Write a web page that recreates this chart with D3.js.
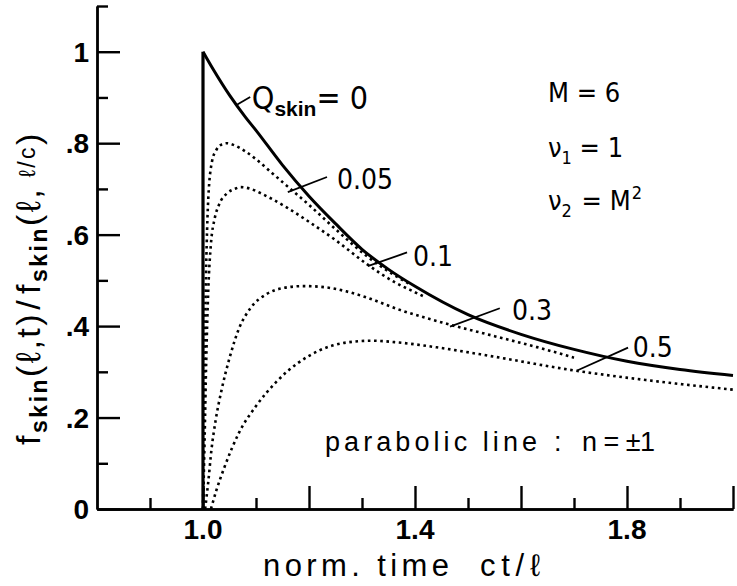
<!DOCTYPE html>
<html>
<head>
<meta charset="utf-8">
<script src="https://cdn.jsdelivr.net/npm/d3@7"></script>
<style>
  body { margin: 0; background: #fff; }
  svg { display: block; }
</style>
</head>
<body>
<svg id="chart" width="737" height="586"></svg>
<script>
// Skin-current response at the far end of a parabolic line (n = ±1), M = 6
// Normalised time ct/ℓ and normalised response, one series per Q_skin value.

// Q_skin = 0 : vertical jump at ct/ℓ = 1, then decay
const tJump = [1.0, 1.0];
const vJump = [0.0, 1.0];
const tQ0 = [1.00, 1.02, 1.05, 1.08, 1.10, 1.15, 1.20, 1.25, 1.30, 1.35, 1.40, 1.50, 1.60, 1.70, 1.80, 1.90, 2.00];
const vQ0 = [1.000, 0.960, 0.905, 0.857, 0.828, 0.752, 0.684, 0.624, 0.568, 0.524, 0.487, 0.425, 0.382, 0.349, 0.323, 0.305, 0.292];

// Q_skin = 0.05
const tQ005 = [1.000, 1.002, 1.004, 1.007, 1.010, 1.017, 1.025, 1.035, 1.045, 1.060, 1.080, 1.100, 1.130, 1.160, 1.200, 1.250, 1.310, 1.360, 1.390];
const vQ005 = [0.00, 0.20, 0.40, 0.58, 0.68, 0.76, 0.785, 0.797, 0.800, 0.795, 0.782, 0.765, 0.735, 0.705, 0.665, 0.612, 0.552, 0.512, 0.492];

// Q_skin = 0.1
const tQ01 = [1.000, 1.003, 1.006, 1.010, 1.015, 1.022, 1.030, 1.045, 1.060, 1.071, 1.090, 1.110, 1.130, 1.160, 1.200, 1.250, 1.310, 1.360, 1.400, 1.420];
const vQ01 = [0.00, 0.15, 0.32, 0.48, 0.58, 0.635, 0.665, 0.69, 0.70, 0.704, 0.70, 0.69, 0.678, 0.658, 0.628, 0.588, 0.535, 0.497, 0.474, 0.463];

// Q_skin = 0.3
const tQ03 = [1.004, 1.010, 1.016, 1.024, 1.035, 1.050, 1.068, 1.090, 1.120, 1.150, 1.190, 1.230, 1.270, 1.310, 1.370, 1.460, 1.550, 1.630, 1.700];
const vQ03 = [0.00, 0.06, 0.13, 0.195, 0.26, 0.33, 0.395, 0.44, 0.47, 0.483, 0.4875, 0.485, 0.476, 0.462, 0.436, 0.405, 0.378, 0.354, 0.331];

// Q_skin = 0.5
const tQ05 = [1.015, 1.025, 1.040, 1.068, 1.100, 1.140, 1.180, 1.220, 1.270, 1.320, 1.370, 1.450, 1.550, 1.700, 1.850, 2.000];
const vQ05 = [0.00, 0.04, 0.09, 0.167, 0.225, 0.28, 0.32, 0.347, 0.364, 0.368, 0.364, 0.352, 0.333, 0.303, 0.280, 0.261];

// Axis ticks and labels
const yMajor = [0, 0.2, 0.4, 0.6, 0.8, 1.0];
const yMinor = [0.1, 0.3, 0.5, 0.7, 0.9, 1.1];
const yTickLabels = ["0", ".2", ".4", ".6", ".8", "1"];
const xMajor = [1.0, 1.2, 1.4, 1.6, 1.8, 2.0];
const xMinor = [0.9, 1.1, 1.3, 1.5, 1.7, 1.9];
const xLabelValues = [1.0, 1.4, 1.8];
const xTickLabels = ["1.0", "1.4", "1.8"];

// Curve annotations: label text and the leader from curve to label (data units)
const annotations = [
  { text: "0.05", from: [1.160, 0.693], to: [1.234, 0.726], at: [1.253, 0.700] },
  { text: "0.1",  from: [1.311, 0.531], to: [1.385, 0.561], at: [1.396, 0.531] },
  { text: "0.3",  from: [1.466, 0.399], to: [1.560, 0.439], at: [1.583, 0.414] },
  { text: "0.5",  from: [1.706, 0.303], to: [1.802, 0.353], at: [1.811, 0.333] }
];

const svg = d3.select("#chart");
const x = d3.scaleLinear().domain([0.8, 2.0]).range([97, 733]);
const y = d3.scaleLinear().domain([0, 1.1]).range([509, 6]);

const narrow = "'Liberation Sans Narrow', 'DejaVu Sans Condensed', 'Liberation Sans', sans-serif";
const plain = "'Liberation Sans', Arial, sans-serif";
const bold = "'Liberation Sans', Arial, sans-serif";

// ----- axes -----
const axisStyle = g => {
  g.selectAll("path, line").attr("stroke", "#000").attr("stroke-width", 2.4);
  g.selectAll("text").remove();
};
svg.append("g").attr("transform", `translate(${x(0.8)},0)`)
  .call(d3.axisLeft(y).tickValues(yMajor).tickSize(-23).tickSizeOuter(0))
  .call(axisStyle);
svg.append("g").attr("transform", `translate(${x(0.8)},0)`)
  .call(d3.axisLeft(y).tickValues(yMinor).tickSize(-11).tickSizeOuter(0))
  .call(axisStyle);
svg.append("g").attr("transform", `translate(0,${y(0)})`)
  .call(d3.axisBottom(x).tickValues(xMajor).tickSize(-23).tickSizeOuter(0))
  .call(axisStyle);
svg.append("g").attr("transform", `translate(0,${y(0)})`)
  .call(d3.axisBottom(x).tickValues(xMinor).tickSize(-11).tickSizeOuter(0))
  .call(axisStyle);

// tick labels
svg.append("g").selectAll("text").data(yMajor).join("text")
  .attr("x", x(0.8) - 8).attr("y", d => y(d)).attr("dy", "0.36em")
  .attr("text-anchor", "end")
  .attr("font-family", bold).attr("font-weight", "bold").attr("font-size", 28)
  .text((d, i) => yTickLabels[i]);
svg.append("g").selectAll("text").data(xLabelValues).join("text")
  .attr("x", d => x(d)).attr("y", y(0) + 30)
  .attr("text-anchor", "middle")
  .attr("font-family", bold).attr("font-weight", "bold").attr("font-size", 28)
  .text((d, i) => xTickLabels[i]);

// x axis title
const xtg = svg.append("g").attr("font-family", plain).attr("font-size", 31);
xtg.append("text").attr("x", 263).attr("y", 576)
  .attr("textLength", 186).attr("lengthAdjust", "spacing").text("norm. time");
xtg.append("text").attr("x", 480).attr("y", 576)
  .attr("textLength", 60).attr("lengthAdjust", "spacing").text("ct/ℓ");

// y axis title, centred in its band along the axis
const ytCenter = 288;
const yt = svg.append("text")
  .attr("transform", `translate(40,${ytCenter}) rotate(-90)`)
  .attr("text-anchor", "middle")
  .attr("letter-spacing", 2.5)
  .attr("font-family", plain).attr("font-size", 34);
yt.append("tspan").text("f");
yt.append("tspan").attr("dy", 7).attr("font-family", bold).attr("font-weight", "bold").attr("font-size", 23).text("skin");
yt.append("tspan").attr("dy", -7).text("(ℓ,t)");
yt.append("tspan").attr("dx", 2).text("/");
yt.append("tspan").attr("dx", 4).text("f");
yt.append("tspan").attr("dy", 7).attr("font-family", bold).attr("font-weight", "bold").attr("font-size", 23).text("skin");
yt.append("tspan").attr("dy", -7).text("(ℓ,");
yt.append("tspan").attr("dy", -5).attr("font-size", 23).text(" ℓ/c");
yt.append("tspan").attr("dy", 5).text(")");

// ----- curves -----
const toPts = (ts, vs) => ts.map((t, i) => [t, vs[i]]);
const line = d3.line().x(d => x(d[0])).y(d => y(d[1])).curve(d3.curveMonotoneX);
const straight = d3.line().x(d => x(d[0])).y(d => y(d[1]));

const dotted = [toPts(tQ005, vQ005), toPts(tQ01, vQ01), toPts(tQ03, vQ03), toPts(tQ05, vQ05)];
svg.append("g").selectAll("path").data(dotted).join("path")
  .attr("d", line)
  .attr("fill", "none").attr("stroke", "#000")
  .attr("stroke-width", 2.6).attr("stroke-dasharray", "2.6,3.6");

svg.append("path").attr("d", straight(toPts(tJump, vJump)))
  .attr("fill", "none").attr("stroke", "#000").attr("stroke-width", 3.2);
svg.append("path").attr("d", line(toPts(tQ0, vQ0)))
  .attr("fill", "none").attr("stroke", "#000").attr("stroke-width", 3);

// ----- annotations -----
const ann = svg.append("g");
ann.selectAll("line").data(annotations).join("line")
  .attr("x1", d => x(d.from[0])).attr("y1", d => y(d.from[1]))
  .attr("x2", d => x(d.to[0])).attr("y2", d => y(d.to[1]))
  .attr("stroke", "#000").attr("stroke-width", 1.8);
ann.selectAll("text").data(annotations).join("text")
  .attr("x", d => x(d.at[0])).attr("y", d => y(d.at[1]))
  .attr("font-family", narrow).attr("font-size", 28)
  .text(d => d.text);

// Q_skin = 0 label
ann.append("line")
  .attr("x1", x(1.064)).attr("y1", y(0.884)).attr("x2", x(1.089)).attr("y2", y(0.901))
  .attr("stroke", "#000").attr("stroke-width", 1.8);
const q = ann.append("text").attr("x", x(1.092)).attr("y", y(0.875))
  .attr("font-family", narrow).attr("font-size", 32);
q.append("tspan").text("Q");
q.append("tspan").attr("dy", 7).attr("font-family", bold).attr("font-weight", "bold").attr("font-size", 21).text("skin");
q.append("tspan").attr("dy", -7).text("= 0");

// parameters
const params = ann.append("g").attr("font-family", narrow).attr("font-size", 27);
params.append("text").attr("x", 548).attr("y", 102).text("M = 6");
const n1 = params.append("text").attr("x", 548).attr("y", 157);
n1.append("tspan").text("ν");
n1.append("tspan").attr("dy", 7).attr("font-size", 18).text("1");
n1.append("tspan").attr("dy", -7).text(" = 1");
const n2 = params.append("text").attr("x", 548).attr("y", 210);
n2.append("tspan").text("ν");
n2.append("tspan").attr("dy", 7).attr("font-size", 18).text("2");
n2.append("tspan").attr("dy", -7).attr("dx", 2).text(" = M");
n2.append("tspan").attr("dy", -11).attr("dx", 1).attr("font-size", 18).text("2");

const pl = ann.append("g").attr("font-family", plain).attr("font-size", 27);
pl.append("text").attr("x", 325).attr("y", 451)
  .attr("textLength", 212).attr("lengthAdjust", "spacing").text("parabolic line");
pl.append("text").attr("x", 554).attr("y", 451).text(":");
pl.append("text").attr("x", 582).attr("y", 451)
  .attr("textLength", 73).attr("lengthAdjust", "spacing").text("n = ±1");
</script>
</body>
</html>
